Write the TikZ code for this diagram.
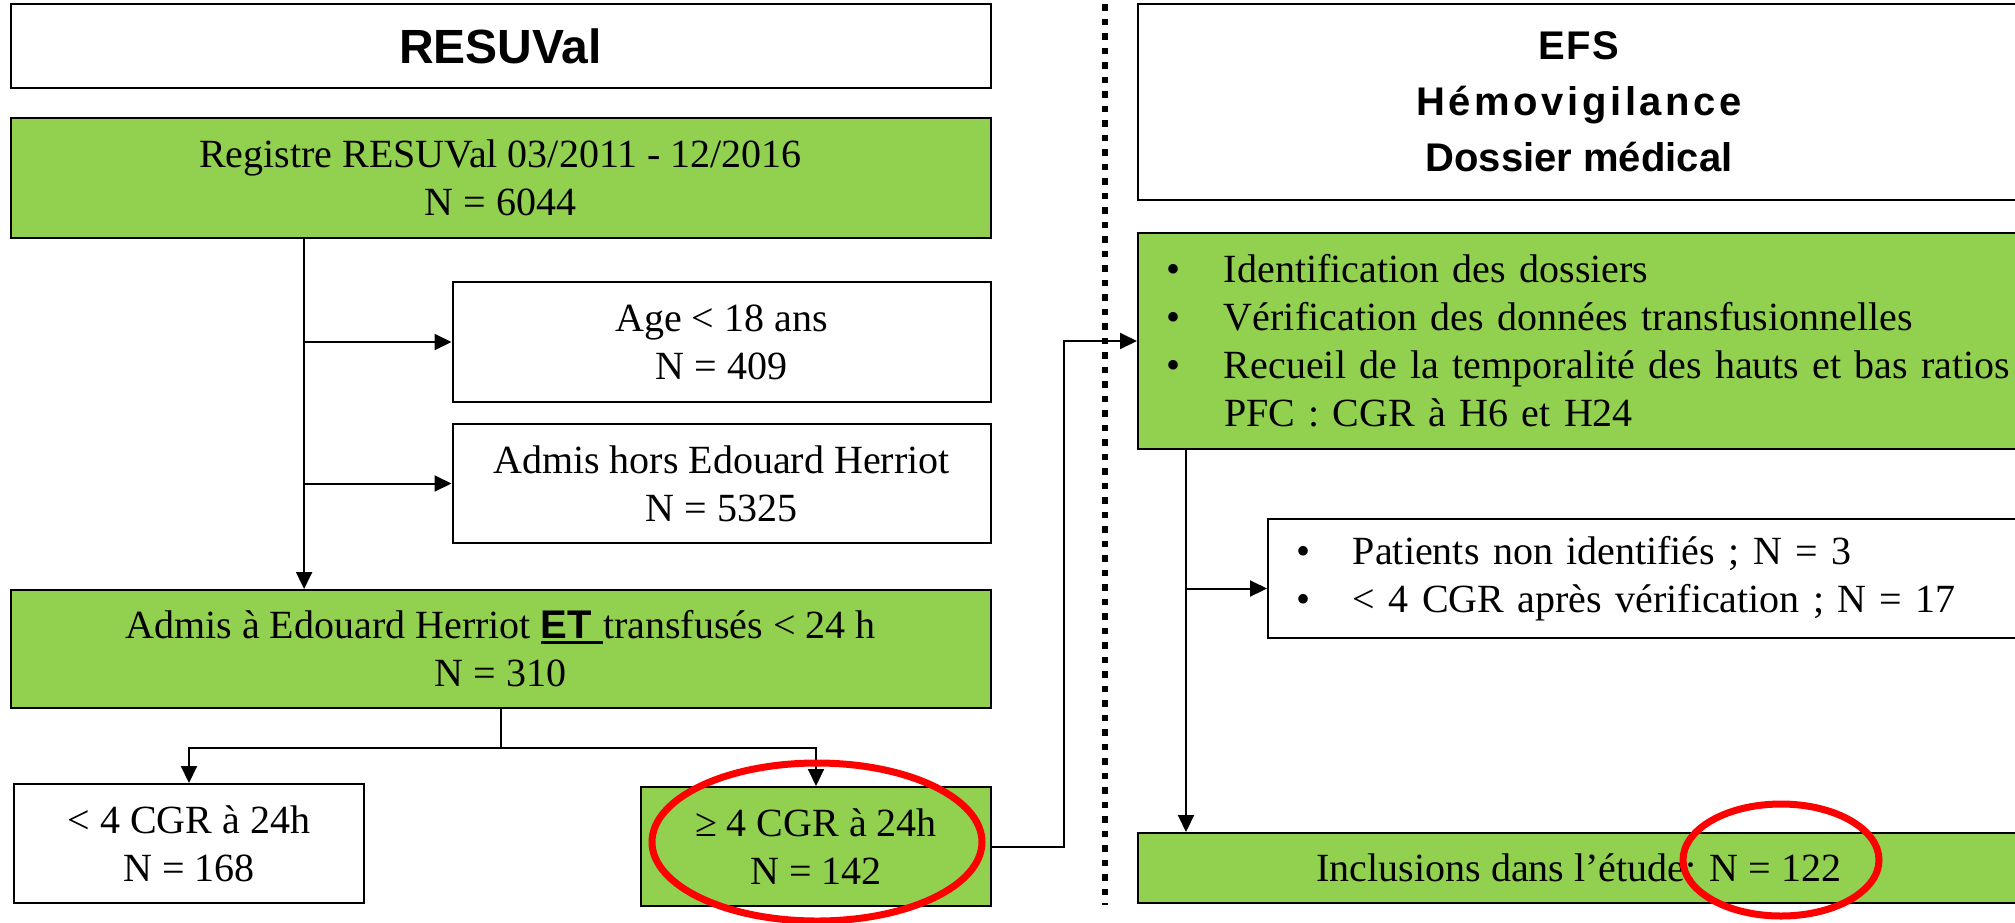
\documentclass[tikz,border=0pt]{standalone}
\usepackage{fontspec}
\setmainfont{Liberation Serif}
\newfontfamily\headfont{Liberation Sans}
\usetikzlibrary{arrows.meta,calc}
\definecolor{boxgreen}{HTML}{92D050}
\newcommand\etmark{\setbox0\hbox{\headfont\bfseries ET\ }\rlap{\rule[-5pt]{\wd0}{3pt}}\box0}
\tikzset{
 box/.style={draw=black, line width=2pt, rectangle, inner sep=0pt, align=center, font=\fontsize{40}{48}\selectfont},
 gbox/.style={box, fill=boxgreen},
 head/.style={box, font=\headfont\bfseries\fontsize{40}{56}\selectfont},
 conn/.style={line width=2pt},
 arr/.style={conn, -{Triangle[length=17pt,width=16pt]}},
 ring/.style={draw=red, line width=7pt},
 sepline/.style={line width=6.5pt, dash pattern=on 6.5pt off 8pt},
}
\begin{document}
\begin{tikzpicture}[x=1pt,y=-1pt]
\useasboundingbox (0,0) rectangle (2015,922);

% left column
\node[head, font=\headfont\bfseries\fontsize{48}{56}\selectfont, minimum width=980pt, minimum height=84pt] (resuval) at (500.5,46) {RESUVal};
\node[gbox, minimum width=980pt, minimum height=120pt] (registre) at (500.5,178) {Registre RESUVal 03/2011 - 12/2016\\N = 6044};
\node[box, minimum width=538pt, minimum height=120pt] (age) at (721.5,342) {Age < 18 ans\\N = 409};
\node[box, minimum width=538pt, minimum height=119pt] (hors) at (721.5,483.5) {Admis hors Edouard Herriot\\N = 5325};
\node[gbox, minimum width=980pt, minimum height=118pt] (admis) at (500.5,649) {Admis à Edouard Herriot \etmark transfusés < 24 h\\N = 310};
\node[box, minimum width=350pt, minimum height=119pt] (lt4) at (189,843.5) {< 4 CGR à 24h\\N = 168};
\node[gbox, minimum width=350pt, minimum height=119pt] (ge4) at (816,846.5) {≥ 4 CGR à 24h\\N = 142};

% right column
\node[head, minimum width=882pt, minimum height=196pt] (efs) at (1579,102)
 {{\addfontfeature{LetterSpace=4}EFS}\\{\addfontfeature{LetterSpace=9}Hémovigilance}\\Dossier médical};
\node[gbox, minimum width=882pt, minimum height=216pt, text width=826pt, align=left] (verif) at (1579,341)
 {\makebox[58pt][l]{•}Identification des dossiers\\
  \makebox[58pt][l]{•}Vérification des données transfusionnelles\\
  \mbox{\makebox[58pt][l]{•}Recueil de la temporalité des hauts et bas ratios}\\
  \hspace*{58pt}PFC : CGR à H6 et H24};
\node[box, minimum width=752pt, minimum height=119pt, text width=696pt, align=left] (patients) at (1644,578.5)
 {\makebox[57pt][l]{•}Patients non identifiés ; N = 3\\
  \makebox[57pt][l]{•}< 4 CGR après vérification ; N = 17};
\node[gbox, minimum width=882pt, minimum height=70pt] (incl) at (1579,868) {Inclusions dans l’étude: N = 122};

% separator
\coordinate (septop) at (1105,4);
\coordinate (sepbot) at (1105,905);
\draw[sepline] (septop) -- (sepbot);

% connectors left
\coordinate (trunk) at ($(registre.south west)!0.3!(registre.south east)$);
\draw[arr] (trunk) -- (trunk |- admis.north);
\draw[arr] (trunk |- age.west) -- (age.west);
\draw[arr] (trunk |- hors.west) -- (hors.west);
\coordinate (split) at ($(admis.south)+(0,39)$);
\draw[arr] (admis.south) -- (split) -| (lt4.north);
\draw[arr] (split) -| (ge4.north);

% cross connector
\coordinate (bendx) at (1064,0);
\draw[arr] (ge4.east) -- (ge4.east -| bendx) |- (verif.west);

% connectors right
\coordinate (rtrunk) at ($(verif.south west)+(49,0)$);
\draw[arr] (rtrunk) -- (rtrunk |- incl.north);
\coordinate (pin) at ($(patients.west)+(0,10)$);
\draw[arr] (rtrunk |- pin) -- (pin);

% red rings
\draw[ring] (817,842) ellipse [x radius=165pt, y radius=79pt];
\draw[ring] (1781,860) ellipse [x radius=98pt, y radius=56pt];
\end{tikzpicture}
\end{document}
